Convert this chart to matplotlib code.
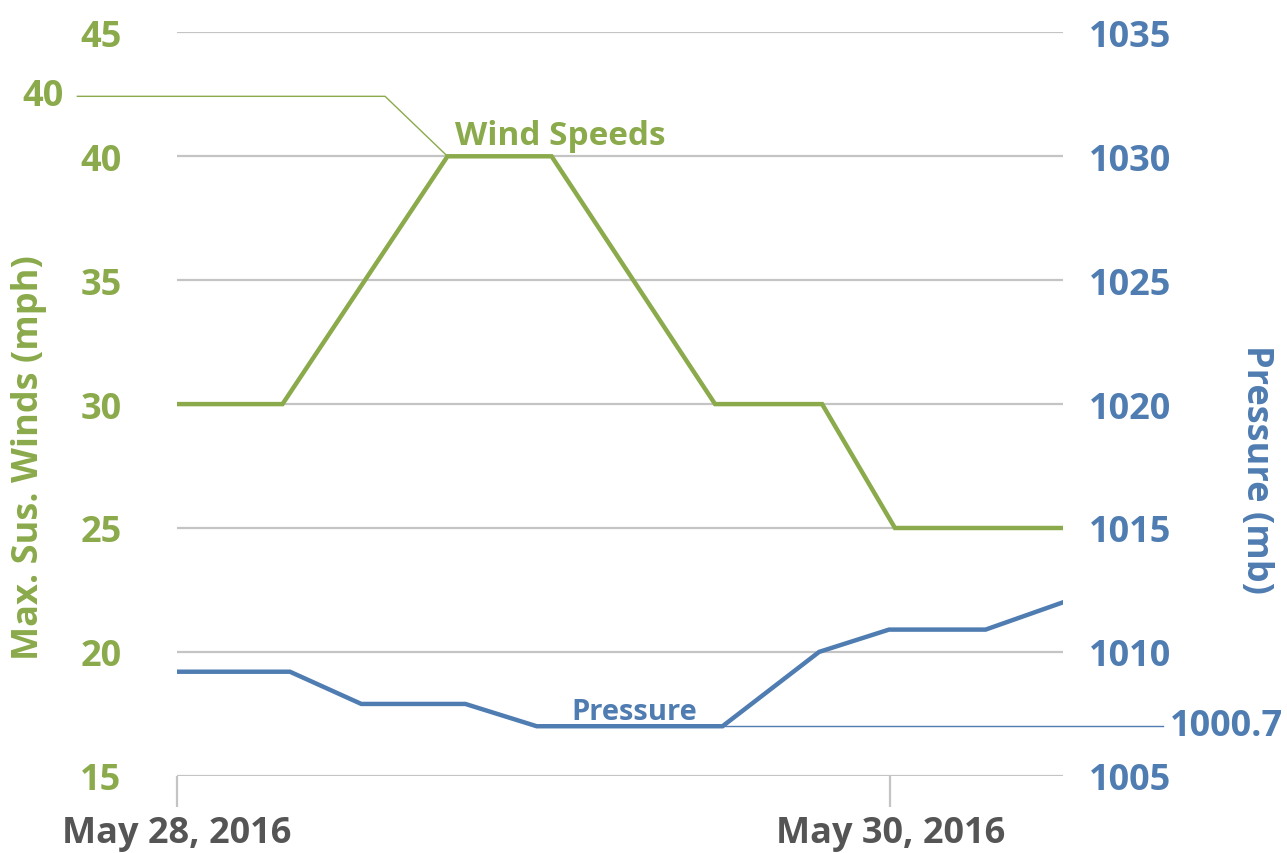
import matplotlib.pyplot as plt

green = "#8aaa4b"
blue = "#4f7cb1"
grid_gray = "#c4c4c4"
text_gray = "#555555"

# hours since May 28, 2016 00:00
wind_hours = [0, 7.1, 18.2, 25.2, 36.2, 43.4, 48.3, 59.6]
wind_mph = [30, 30, 40, 40, 30, 30, 25, 25]

pressure_hours = [0, 7.6, 12.4, 19.4, 24.2, 36.7, 43.2, 47.9, 54.4, 59.6]
pressure_mb = [1009.2, 1009.2, 1007.9, 1007.9, 1007.0, 1007.0, 1010.0, 1010.9, 1010.9, 1012.0]

x_ticks = [0, 48]
x_labels = ["May 28, 2016", "May 30, 2016"]
wind_ticks = [15, 20, 25, 30, 35, 40, 45]
pressure_ticks = [1005, 1010, 1015, 1020, 1025, 1030, 1035]

plt.rcParams['font.family'] = ['Open Sans', 'DejaVu Sans']
plt.rcParams['font.weight'] = 'bold'

fig = plt.figure(figsize=(12.87, 8.54), dpi=100)
ax = fig.add_axes([0.1375, 0.0904, 0.6884, 0.8705])
ax2 = ax.twinx()

ax.set_xlim(wind_hours[0], wind_hours[-1])
ax.set_ylim(15, 45)
ax2.set_ylim(1005, 1035)

for s in ax.spines.values():
    s.set_visible(False)
for s in ax2.spines.values():
    s.set_visible(False)

ax.set_yticks(wind_ticks)
ax.set_yticklabels([str(t) for t in wind_ticks])
ax.grid(axis='y', color=grid_gray, linewidth=1.6)
ax.set_axisbelow(True)
ax.tick_params(axis='y', length=0, pad=40, labelsize=26, labelcolor=green)

ax2.set_yticks(pressure_ticks)
ax2.set_yticklabels([str(t) for t in pressure_ticks])
ax2.tick_params(axis='y', length=0, pad=19, labelsize=26, labelcolor=blue)

ax.set_xticks(x_ticks)
ax.set_xticklabels(x_labels)
ax.tick_params(axis='x', direction='out', length=22, width=1.6, color=grid_gray,
               pad=6, labelsize=26, labelcolor=text_gray)

ax.set_ylabel("Max. Sus. Winds (mph)", color=green, fontsize=26, fontweight='bold',
              va='center')
ax.yaxis.set_label_coords(-0.167, 0.43)
ax2.set_ylabel("Pressure (mb)", color=blue, fontsize=26, fontweight='bold', rotation=270,
               va='center')
ax2.yaxis.set_label_coords(1.218, 0.413)

ax.plot(wind_hours, wind_mph, color=green, linewidth=3.2, solid_joinstyle='miter', zorder=3)
ax2.plot(pressure_hours, pressure_mb, color=blue, linewidth=3.2, solid_joinstyle='miter', zorder=3)

# callout for wind peak
peak = wind_mph.index(max(wind_mph))
ax.plot([-6.7, 14.0, wind_hours[peak]], [42.42, 42.42, wind_mph[peak]],
        color=green, linewidth=1, clip_on=False, zorder=2)
ax.text(-7.6, 42.42, "40", color=green, fontsize=26, fontweight='bold',
        ha='right', va='center')

# callout for pressure minimum
low = pressure_mb.index(min(pressure_mb))
ax2.plot([pressure_hours[low], 66.3], [pressure_mb[low], pressure_mb[low]],
         color=blue, linewidth=1, clip_on=False, zorder=2)
ax2.text(66.8, pressure_mb[low], "1000.7", color=blue, fontsize=26, fontweight='bold',
         ha='left', va='center')

ax.text(18.7, 40.5, "Wind Speeds", color=green, fontsize=24, fontweight='bold', ha='left', va='baseline')
ax2.text(26.5, 1007.29, "Pressure", color=blue, fontsize=21, fontweight='bold', ha='left', va='baseline')

plt.savefig("out.png", dpi=100)
